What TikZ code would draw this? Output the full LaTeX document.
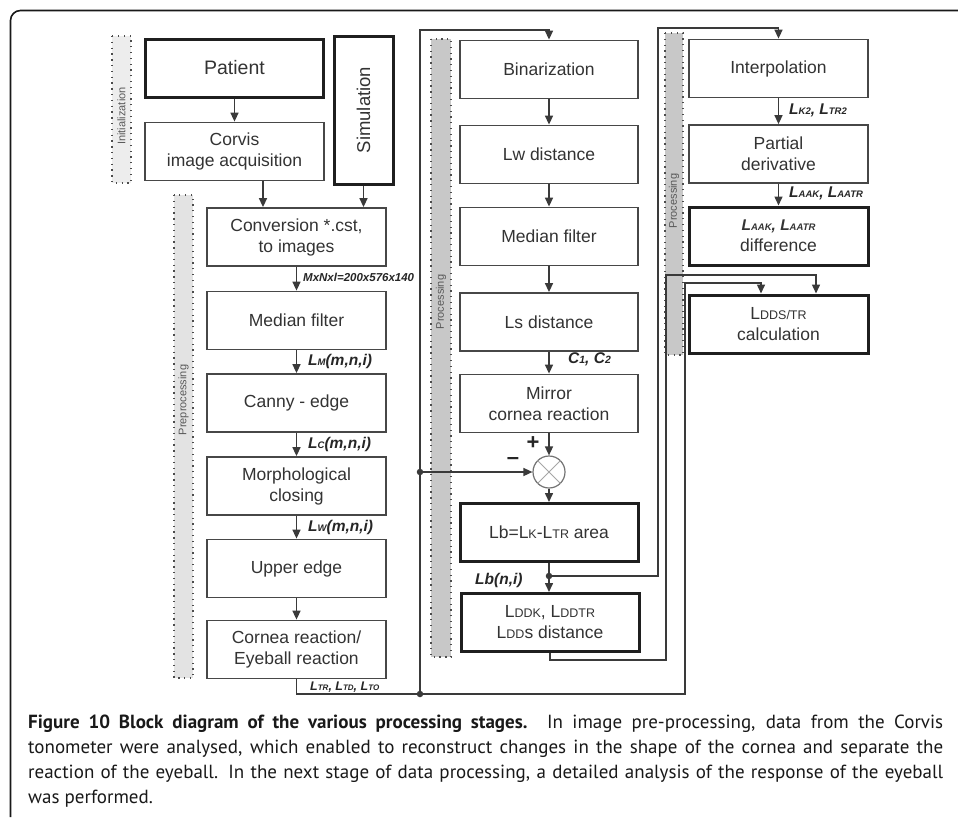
\documentclass[tikz,border=0pt]{standalone}
\usepackage{fontspec}
\setmainfont{Liberation Sans}
\newfontfamily\capfont{PT Sans}
\usetikzlibrary{arrows.meta,calc}
\definecolor{lncol}{HTML}{3A3A3A}
\definecolor{txcol}{HTML}{333333}
\definecolor{bandA}{HTML}{EDEDED}
\definecolor{bandB}{HTML}{E3E3E3}
\definecolor{bandC}{HTML}{C8C8C8}
\newcommand{\fsz}[1]{\fontsize{#1}{#1}\selectfont}
\newcommand{\smc}[1]{{\fontsize{12.5}{12.5}\selectfont #1}}
\newcommand{\lsub}[1]{{\fontsize{9.5}{9.5}\selectfont #1}}
\begin{document}
\begin{tikzpicture}[x=1pt,y=-1pt,
  box/.style={draw=black!72, line width=1.8pt, fill=white, text=txcol, align=center,
    minimum width=179pt, minimum height=58pt, inner sep=0pt, font=\fontsize{17.5}{21}\selectfont},
  tbox/.style={box, line width=3pt, draw=black!88},
  arr/.style={draw=lncol, line width=1.5pt, -{Triangle[length=9pt,width=8pt]}},
  lnk/.style={draw=lncol, line width=1.5pt},
  jdot/.style={circle, fill=lncol, inner sep=0pt, minimum size=6.5pt},
  bandbox/.style={draw=black!70, line width=1.2pt, dash pattern=on 1.3pt off 4.5pt},
  lab/.style={font=\fsz{15.5}\bfseries\itshape, text=black!85, anchor=west, inner sep=0pt},
  bandlab/.style={font=\fsz{11}, text=black!65, rotate=90, inner sep=0pt},
  caplab/.style={anchor=base west, inner sep=0pt, font=\capfont\fsz{19}, text=black!90},
]
\useasboundingbox (0,0) rectangle (958,817);
\fill[white] (0,0) rectangle (958,817);
% frame
\draw[line width=1.6pt, black!90, rounded corners=10pt] (10.5,817) -- (10.5,10.5) -- (958,10.5);

% bands
\filldraw[fill=bandA, bandbox] (112,36) rectangle (131,183);
\filldraw[fill=bandB, bandbox] (174,195) rectangle (193,678);
\filldraw[fill=bandC, bandbox] (431,39) rectangle (451,657);
\filldraw[fill=bandC, bandbox] (665,33) rectangle (683,355);
\node[bandlab] (lbInit) at (121.5,116) {Initialization};
\node[bandlab] (lbPre) at (183.5,400) {Preprocessing};
\node[bandlab] (lbProc1) at (441,302) {Processing};
\node[bandlab] (lbProc2) at (674,201) {Processing};

% left column
\node[tbox, minimum width=178pt, font=\fsz{19.5}] (patient) at (234.5,68) {Patient};
\node[box] (corvis) at (234.5,151.5) {Corvis\\image acquisition};
\node[tbox, minimum width=148pt, minimum height=59pt, rotate=90, font=\fsz{18.5}] (sim) at (363.5,110) {Simulation};
\node[box] (conv) at (296.5,237) {Conversion *.cst,\\to images};
\node[box] (med1) at (296.5,320.5) {Median filter};
\node[box] (canny) at (296.5,403) {Canny - edge};
\node[box] (morph) at (296.5,486) {Morphological\\closing};
\node[box] (upper) at (296.5,568.5) {Upper edge};
\node[box] (cornea) at (296.5,649.5) {Cornea reaction/\\Eyeball reaction};

% middle column
\node[box, minimum width=178pt] (bin) at (549,69.5) {Binarization};
\node[box, minimum width=178pt] (lw) at (549,154.5) {Lw distance};
\node[box, minimum width=178pt] (med2) at (549,236.5) {Median filter};
\node[box, minimum width=178pt] (ls) at (549,322) {Ls distance};
\node[box, minimum width=178pt] (mirror) at (549,403.5) {Mirror\\cornea reaction};
\node[circle, draw=black!55, line width=1.2pt, fill=white, minimum size=32pt, inner sep=0pt] (sum) at (549,472) {};
\draw[black!35, line width=0.8pt] (sum.north west) -- (sum.south east) (sum.north east) -- (sum.south west);
\node[tbox, minimum width=178pt] (lb) at (549,532.5) {Lb=L\smc{K}-L\smc{TR} area};
\node[tbox, minimum width=178pt] (ldd) at (550,622.5) {L\smc{DDK}, L\smc{DDTR}\\L\smc{DD}s distance};

% right column
\node[box] (interp) at (778.5,68.5) {Interpolation};
\node[box] (partial) at (778.5,154) {Partial\\derivative};
\node[tbox] (diff) at (778.5,236) {{\fsz{15.5}\bfseries\itshape L\lsub{AAK}, L\lsub{AATR}}\\difference};
\node[tbox] (ddstr) at (778.5,324) {L\smc{DDS/TR}\\calculation};

% left column arrows
\draw[arr] (patient) -- (corvis);
\draw[arr] ([xshift=28.5pt]corvis.south) -- ([xshift=28.5pt]corvis.south |- conv.north);
\draw[arr] (sim.west) -- (sim.west |- conv.north);
\draw[arr] (conv) -- (med1);
\draw[arr] (med1) -- (canny);
\draw[arr] (canny) -- (morph);
\draw[arr] (morph) -- (upper);
\draw[arr] (upper) -- (cornea);

% middle column arrows
\draw[arr] (bin) -- (lw);
\draw[arr] (lw) -- (med2);
\draw[arr] (med2) -- (ls);
\draw[arr] (ls) -- (mirror);
\draw[arr] (mirror.south) -- (sum.north);
\draw[arr] (sum.south) -- (lb.north);
\draw[arr] (lb.south) -- (lb.south |- ldd.north);

% right column arrows
\draw[arr] (interp) -- (partial);
\draw[arr] (partial) -- (diff);

% long connectors
\coordinate (jA) at (420,694);
\coordinate (jB) at (420,472);
\coordinate (t1) at (420,30);
\coordinate (c1) at (685,694);
\coordinate (c2) at (685,283);
\draw[arr] (cornea.south) |- (c1) -- (c2) -| ([xshift=-17.5pt]ddstr.north);
\draw[arr] (jA) -- (t1) -| (bin.north);
\draw[arr] (jB) -- (sum.west);

\coordinate (jC) at (549,576);
\coordinate (t2) at (658,28);
\draw[arr] (jC) -| (t2) -| (interp.north);

\coordinate (l1) at (666,660);
\coordinate (l2) at (666,275);
\draw[arr] (ldd.south) |- (l1) -- (l2) -| ([xshift=37.5pt]ddstr.north);

\node[jdot] (dA) at (jA) {};
\node[jdot] (dB) at (jB) {};
\node[jdot] (dC) at (jC) {};

% labels
\node[lab, font=\fsz{11.5}\bfseries\itshape] (lMN) at (303,277) {MxNxl=200x576x140};
\node[lab] (lLM) at (308,361) {L\lsub{M}(m,n,i)};
\node[lab] (lLC) at (308,444) {L\lsub{C}(m,n,i)};
\node[lab] (lLW) at (308,527) {L\lsub{W}(m,n,i)};
\node[lab, font=\fsz{12.5}\bfseries\itshape] (lLT) at (310,687) {L{\fsz{8}TR}, L{\fsz{8}TD}, L{\fsz{8}TO}};
\node[lab] (lC) at (568,359) {C{\fsz{10.5}1}, C{\fsz{10.5}2}};
\node[lab] (lLb) at (475,580) {Lb(n,i)};
\node[font=\fsz{22}\bfseries, text=black!85, inner sep=0pt] (plus) at (533,443) {+};
\node[font=\fsz{22}\bfseries, text=black!85, inner sep=0pt] (minus) at (513,461) {–};
\node[lab] (lK2) at (789,110) {L\lsub{K2}, L\lsub{TR2}};
\node[lab] (lAA) at (789,193) {L\lsub{AAK}, L\lsub{AATR}};

% caption
\node[caplab] (cap1) at (28,728)
  {\makebox[915pt][s]{\textbf{Figure 10 Block diagram of the various processing stages.} In image pre-processing, data from the Corvis}};
\node[caplab] (cap2) at (28,753)
  {\makebox[915pt][s]{tonometer were analysed, which enabled to reconstruct changes in the shape of the cornea and separate the}};
\node[caplab] (cap3) at (28,778)
  {\makebox[915pt][s]{reaction of the eyeball. In the next stage of data processing, a detailed analysis of the response of the eyeball}};
\node[caplab] (cap4) at (28,803)
  {was performed.};
\end{tikzpicture}
\end{document}
